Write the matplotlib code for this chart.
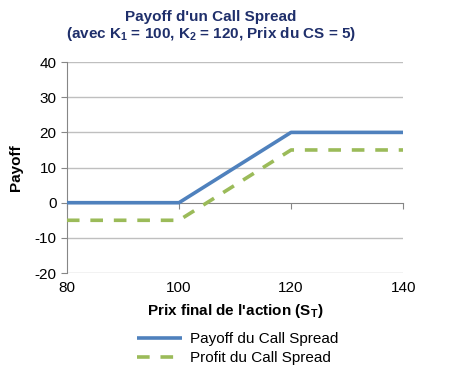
import matplotlib
matplotlib.use('Agg')
import matplotlib.pyplot as plt

# Données du graphique
prix_final = [80, 100, 120, 140]
payoff = [0, 0, 20, 20]
profit = [-5, -5, 15, 15]
x_ticks = [80, 100, 120, 140]
y_ticks = [-20, -10, 0, 10, 20, 30, 40]

plt.rcParams['font.family'] = ['Liberation Sans', 'DejaVu Sans']
plt.rcParams['axes.unicode_minus'] = False
plt.rcParams['mathtext.fontset'] = 'custom'
plt.rcParams['mathtext.rm'] = 'Liberation Sans:bold'
plt.rcParams['mathtext.it'] = 'Liberation Sans:bold'
plt.rcParams['mathtext.bf'] = 'Liberation Sans:bold'

fig = plt.figure(figsize=(4.55, 3.74), dpi=100)
ax = fig.add_axes([0.147, 0.270, 0.739, 0.564])

ax.plot(prix_final, payoff, color='#4F81BD', linewidth=2.6,
        label='Payoff du Call Spread', solid_capstyle='butt', zorder=3)
ax.plot(prix_final, profit, color='#9BBB59', linewidth=2.6,
        linestyle=(0, (3.5, 3.0)), label='Profit du Call Spread', zorder=3)

ax.set_xlim(80, 140)
ax.set_ylim(-20, 40)
ax.set_yticks(y_ticks)
ax.set_xticks(x_ticks)

# grille horizontale
for y in y_ticks:
    if y != 0:
        ax.axhline(y, color='#BFBFBF', linewidth=1.0, zorder=1)

for s in ['top', 'right']:
    ax.spines[s].set_visible(False)
ax.spines['left'].set_color('#868686')
ax.spines['bottom'].set_position(('data', 0))
ax.spines['bottom'].set_color('#868686')
ax.tick_params(axis='y', colors='#868686', length=4, direction='out',
               labelcolor='black', labelsize=11)
ax.tick_params(axis='x', colors='#868686', length=4, direction='out',
               labelbottom=False)

# étiquettes de l'axe x en bas (comme Excel)
sec = ax.secondary_xaxis('bottom')
sec.set_xticks(x_ticks)
sec.spines['bottom'].set_visible(False)
sec.tick_params(length=0, labelsize=11, pad=6)

sec.set_xlabel("Prix final de l'action (S$_{\\mathrm{T}}$)", fontsize=11,
               fontweight='bold', labelpad=5)
ax.set_ylabel('Payoff', fontsize=11, fontweight='bold', labelpad=8)

fig.text(0.464, 0.955, "Payoff d'un Call Spread", ha='center', va='center',
         fontsize=11, fontweight='bold', color='#1F2F6B')
fig.text(0.464, 0.91, "(avec K$_{\\mathrm{1}}$ = 100, K$_{\\mathrm{2}}$ = 120, Prix du CS = 5)",
         ha='center', va='center', fontsize=11, fontweight='bold', color='#1F2F6B')

fig.legend(loc='center', bbox_to_anchor=(0.522, 0.068), frameon=False,
           fontsize=11, handlelength=3.0, labelspacing=0.35, handletextpad=0.5)

plt.savefig('out.png', dpi=100)
plt.close(fig)
